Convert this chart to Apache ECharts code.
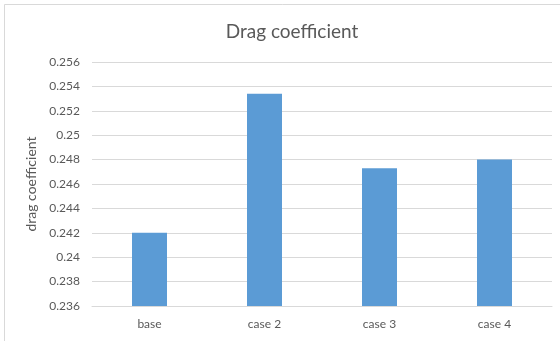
<!DOCTYPE html>
<html>
<head>
<meta charset="utf-8">
<style>
  html, body { margin: 0; padding: 0; background: #fff; }
  #chart { width: 560px; height: 341px; }
</style>
<script src="https://cdn.jsdelivr.net/npm/echarts@6/dist/echarts.min.js"></script>
</head>
<body>
<div id="chart"></div>
<script>
// Drag coefficient per configuration
const categories = ['base', 'case 2', 'case 3', 'case 4'];
const dragValues = [0.242, 0.2534, 0.2473, 0.2480];
const yTicks = { min: 0.236, max: 0.256, step: 0.002 };

const textColor = '#595959';
const gridColor = '#d9d9d9';
const fontFamily = 'Lato, "Noto Sans", sans-serif';

const chart = echarts.init(document.getElementById('chart'), null, { renderer: 'canvas' });

chart.setOption({
  animation: false,
  backgroundColor: '#ffffff',
  textStyle: { fontFamily: fontFamily },
  title: {
    text: 'Drag coefficient',
    left: 287,
    top: 17,
    textAlign: 'center',
    textStyle: { color: textColor, fontSize: 19, fontWeight: 'normal', fontFamily: fontFamily }
  },
  graphic: [{
    type: 'rect',
    shape: { x: 4.5, y: 4.5, width: 600, height: 400 },
    style: { fill: 'none', stroke: gridColor, lineWidth: 1 },
    silent: true
  }],
  grid: { left: 92, right: 8, top: 62, bottom: 35 },
  xAxis: {
    type: 'category',
    data: categories,
    axisLine: { lineStyle: { color: gridColor, width: 1 } },
    axisTick: { show: false },
    axisLabel: { color: textColor, fontSize: 12, margin: 12, fontFamily: fontFamily }
  },
  yAxis: {
    type: 'value',
    min: yTicks.min,
    max: yTicks.max,
    interval: yTicks.step,
    name: 'drag coefficient',
    nameLocation: 'middle',
    nameGap: 50,
    nameTextStyle: { color: textColor, fontSize: 14, fontFamily: fontFamily },
    axisLine: { show: false },
    axisTick: { show: false },
    splitLine: { lineStyle: { color: gridColor, width: 1 } },
    axisLabel: {
      color: textColor,
      fontSize: 12,
      margin: 12,
      fontFamily: fontFamily,
      formatter: function (v) { return String(parseFloat(v.toFixed(3))); }
    }
  },
  series: [{
    type: 'bar',
    data: dragValues,
    barWidth: 35,
    itemStyle: { color: '#5b9bd5' }
  }]
});
</script>
</body>
</html>
